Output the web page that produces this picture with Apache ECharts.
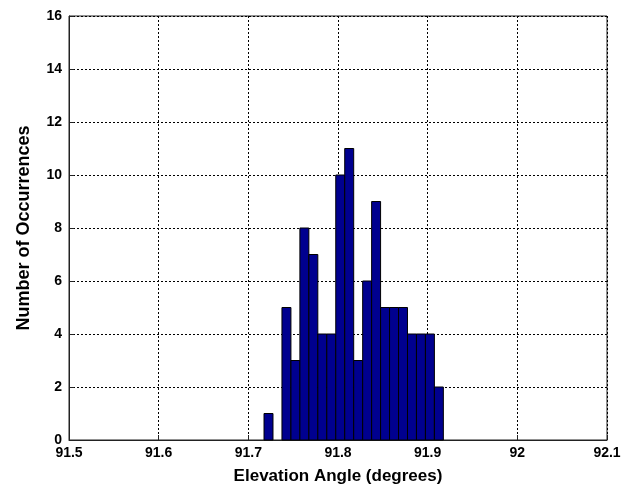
<!DOCTYPE html>
<html>
<head>
<meta charset="utf-8">
<script src="https://cdn.jsdelivr.net/npm/echarts@6/dist/echarts.min.js"></script>
<style>
  html, body { margin: 0; background: #fff; }
  #chart { width: 635px; height: 491px; }
</style>
</head>
<body>
<div id="chart"></div>
<script>
// histogram bins (centres, degrees) and their counts
const binCenters = [91.7225, 91.7425, 91.7525, 91.7625, 91.7725, 91.7825, 91.7925,
  91.8025, 91.8125, 91.8225, 91.8325, 91.8425, 91.8525, 91.8625, 91.8725,
  91.8825, 91.8925, 91.9025, 91.9125];
const counts = [1, 5, 3, 8, 7, 4, 4, 10, 11, 3, 6, 9, 5, 5, 5, 4, 4, 4, 2];
const binWidth = 0.01;

const xTitle = 'Elevation Angle (degrees)';
const yTitle = 'Number of Occurrences';

const fontFam = "'Liberation Sans', Arial, sans-serif";

const chart = echarts.init(document.getElementById('chart'));

const gridLine = { show: true, lineStyle: { color: '#000', type: [2, 2], width: 1 } };
const labelStyle = { color: '#000', fontFamily: fontFam, fontWeight: 'bold', fontSize: 14 };

chart.setOption({
  animation: false,
  backgroundColor: '#fff',
  grid: {
    left: 69, right: 28, top: 16, bottom: 51,
    show: true, borderColor: '#222', borderWidth: 1, backgroundColor: 'transparent'
  },
  xAxis: {
    type: 'value',
    min: 91.5, max: 92.1, interval: 0.1,
    name: xTitle,
    nameLocation: 'middle',
    nameGap: 28,
    nameTextStyle: { color: '#000', fontFamily: fontFam, fontWeight: 'bold', fontSize: 17 },
    axisLine: { show: true, lineStyle: { color: '#222' } },
    axisTick: { show: true, inside: true, length: 5, lineStyle: { color: '#222' } },
    axisLabel: Object.assign({ margin: 6 }, labelStyle),
    splitLine: gridLine
  },
  yAxis: {
    type: 'value',
    min: 0, max: 16, interval: 2,
    name: yTitle,
    nameLocation: 'middle',
    nameGap: 36,
    nameTextStyle: { color: '#000', fontFamily: fontFam, fontWeight: 'bold', fontSize: 18 },
    axisLine: { show: true, lineStyle: { color: '#222' } },
    axisTick: { show: true, inside: true, length: 5, lineStyle: { color: '#222' } },
    axisLabel: Object.assign({ margin: 7 }, labelStyle),
    splitLine: gridLine
  },
  series: [{
    type: 'custom',
    data: binCenters.map((c, i) => [c, counts[i]]),
    encode: { x: 0, y: 1 },
    renderItem: function (params, api) {
      const c = api.value(0), n = api.value(1);
      const topLeft = api.coord([c - binWidth / 2, n]);
      const botRight = api.coord([c + binWidth / 2, 0]);
      return {
        type: 'rect',
        shape: {
          x: topLeft[0], y: topLeft[1],
          width: botRight[0] - topLeft[0], height: botRight[1] - topLeft[1]
        },
        style: { fill: '#00008f', stroke: '#000', lineWidth: 1 }
      };
    }
  }]
});
</script>
</body>
</html>
